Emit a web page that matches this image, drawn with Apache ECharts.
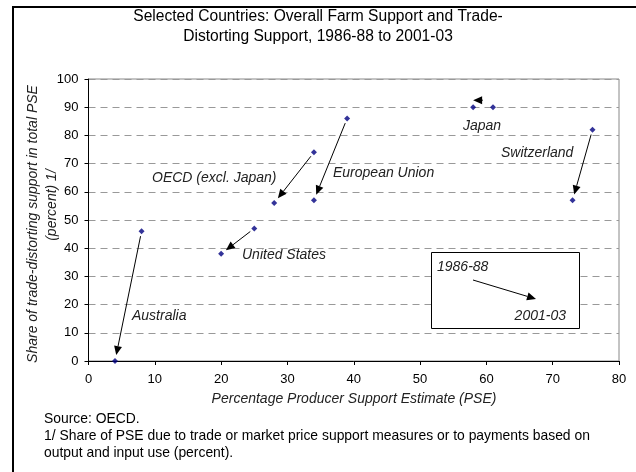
<!DOCTYPE html>
<html>
<head>
<meta charset="utf-8">
<script src="https://cdn.jsdelivr.net/npm/echarts@6/dist/echarts.min.js"></script>
<style>
  html, body { margin: 0; padding: 0; background: #fff; }
  #chart { width: 636px; height: 472px; }
</style>
</head>
<body>
<div id="chart"></div>
<script>
// Farm support by country: percentage PSE (x) against the trade-distorting share of PSE (y)
const countries = ['Australia', 'United States', 'OECD (excl. Japan)', 'European Union', 'Japan', 'Switzerland'];
const pse1986 = [8, 25, 34, 39, 61, 76];
const share1986 = [46, 47, 74, 86, 90, 82];
const pse2001 = [4, 20, 28, 34, 58, 73];
const share2001 = [0, 38, 56, 57, 90, 57];

const xTicks = [0, 10, 20, 30, 40, 50, 60, 70, 80];
const yTicks = [0, 10, 20, 30, 40, 50, 60, 70, 80, 90, 100];

const FONT = '"Liberation Sans", Arial, sans-serif';

const pointsEarly = pse1986.map((x, i) => [x, share1986[i]]);
const pointsLate = pse2001.map((x, i) => [x, share2001[i]]);
const moves = countries.map((c, i) => [pse1986[i], share1986[i], pse2001[i], share2001[i]]);

// Arrow from (x1, y1) to the tip (x2, y2), with a filled head
function arrowShape(x1, y1, x2, y2, z) {
  const dx = x2 - x1, dy = y2 - y1;
  const len = Math.hypot(dx, dy);
  const ux = dx / len, uy = dy / len;
  const headLen = 9, headHalf = 4;
  const bx = x2 - ux * headLen, by = y2 - uy * headLen;
  const line = { type: 'line', shape: { x1: x1, y1: y1, x2: bx, y2: by }, style: { stroke: '#000', lineWidth: 1 } };
  const head = { type: 'polygon', shape: { points: [[x2, y2], [bx - uy * headHalf, by + ux * headHalf], [bx + uy * headHalf, by - ux * headHalf]] }, style: { fill: '#000' } };
  if (z != null) { line.z = z; head.z = z; }
  return [line, head];
}

// Each country's move from 1986-88 to 2001-03
function renderMove(params, api) {
  const a = api.coord([api.value(0), api.value(1)]);
  const b = api.coord([api.value(2), api.value(3)]);
  const dx = b[0] - a[0], dy = b[1] - a[1];
  const len = Math.hypot(dx, dy);
  const ux = dx / len, uy = dy / len;
  let tailGap = 5, headGap = 6, lift = 0;
  if (Math.abs(dy) < 1) { tailGap = 10; headGap = 0; lift = -7; }  // level move: draw the arrow above the points
  const x1 = a[0] + ux * tailGap, y1 = a[1] + uy * tailGap + lift;
  const x2 = b[0] - ux * headGap, y2 = b[1] - uy * headGap + lift;
  return { type: 'group', children: arrowShape(x1, y1, x2, y2) };
}

const italic = { fontFamily: FONT, fontStyle: 'italic', fontSize: 14, fill: '#222' };
const plain = { fontFamily: FONT, fontSize: 14, fill: '#000' };

const chart = echarts.init(document.getElementById('chart'), null, { renderer: 'canvas' });
chart.setOption({
  backgroundColor: '#fff',
  animation: false,
  grid: { left: 88.5, right: 17, top: 79, bottom: 111, show: true, borderColor: '#888', borderWidth: 1, backgroundColor: 'transparent' },
  xAxis: {
    type: 'value', min: xTicks[0], max: xTicks[xTicks.length - 1], interval: 10,
    axisLine: { show: true, lineStyle: { color: '#000', width: 1 } },
    axisTick: { show: true, length: 4, inside: false, lineStyle: { color: '#000' } },
    axisLabel: { color: '#000', fontFamily: FONT, fontSize: 13, margin: 12 },
    splitLine: { show: false }
  },
  yAxis: {
    type: 'value', min: yTicks[0], max: yTicks[yTicks.length - 1], interval: 10,
    axisLine: { show: true, lineStyle: { color: '#000', width: 1 } },
    axisTick: { show: true, length: 4, lineStyle: { color: '#000' } },
    axisLabel: { color: '#000', fontFamily: FONT, fontSize: 13, margin: 10 },
    splitLine: { show: true, lineStyle: { color: '#999', type: [7, 5], width: 1 } }
  },
  series: [
    { type: 'custom', renderItem: renderMove, data: moves, z: 3, silent: true },
    { type: 'scatter', data: pointsEarly, symbol: 'diamond', symbolSize: [6, 6], itemStyle: { color: '#000080' }, z: 4 },
    { type: 'scatter', data: pointsLate, symbol: 'diamond', symbolSize: [6, 6], itemStyle: { color: '#000080' }, z: 4 }
  ],
  graphic: [
    // outer frame
    { type: 'rect', shape: { x: 13, y: 7, width: 640, height: 480 }, style: { fill: 'none', stroke: '#000', lineWidth: 2 }, z: 1 },
    // title
    { type: 'text', x: 318, y: 17, style: Object.assign({}, plain, { text: 'Selected Countries: Overall Farm Support and Trade-', fontSize: 15.6, align: 'center', verticalAlign: 'middle' }) },
    { type: 'text', x: 318, y: 37, style: Object.assign({}, plain, { text: 'Distorting Support, 1986-88 to 2001-03', fontSize: 15.6, align: 'center', verticalAlign: 'middle' }) },
    // axis names
    { type: 'text', x: 33, y: 224, rotation: Math.PI / 2, style: Object.assign({}, italic, { text: 'Share of trade-distorting support in total PSE', align: 'center', verticalAlign: 'middle' }) },
    { type: 'text', x: 52, y: 205, rotation: Math.PI / 2, style: Object.assign({}, italic, { text: '(percent) 1/', align: 'center', verticalAlign: 'middle' }) },
    { type: 'text', x: 354, y: 399, style: Object.assign({}, italic, { text: 'Percentage Producer Support Estimate (PSE)', align: 'center', verticalAlign: 'middle' }) },
    // country labels
    { type: 'text', x: 132, y: 316, style: Object.assign({}, italic, { text: countries[0], verticalAlign: 'middle' }) },
    { type: 'text', x: 242, y: 255, style: Object.assign({}, italic, { text: countries[1], verticalAlign: 'middle' }) },
    { type: 'text', x: 152, y: 178, style: Object.assign({}, italic, { text: countries[2], verticalAlign: 'middle' }) },
    { type: 'text', x: 333, y: 173, style: Object.assign({}, italic, { text: countries[3], verticalAlign: 'middle' }) },
    { type: 'text', x: 463, y: 126, style: Object.assign({}, italic, { text: countries[4], verticalAlign: 'middle' }) },
    { type: 'text', x: 501, y: 153, style: Object.assign({}, italic, { text: countries[5], verticalAlign: 'middle' }) },
    // key box
    { type: 'rect', shape: { x: 431.5, y: 252.5, width: 148, height: 76 }, style: { fill: '#fff', stroke: '#000', lineWidth: 1 }, z: 10 },
    { type: 'text', x: 437, y: 267, z: 11, style: Object.assign({}, italic, { text: '1986-88', verticalAlign: 'middle' }) },
    { type: 'text', x: 566, y: 316, z: 11, style: Object.assign({}, italic, { text: '2001-03', align: 'right', verticalAlign: 'middle' }) }
  ].concat(arrowShape(473, 280, 536, 299, 11)).concat([
    // notes
    { type: 'text', x: 44, y: 419, style: Object.assign({}, plain, { text: 'Source: OECD.', fontSize: 13.9, verticalAlign: 'middle' }) },
    { type: 'text', x: 44, y: 436, style: Object.assign({}, plain, { text: '1/ Share of PSE due to trade or market price support measures or to payments based on', fontSize: 13.9, verticalAlign: 'middle' }) },
    { type: 'text', x: 44, y: 453, style: Object.assign({}, plain, { text: 'output and input use (percent).', fontSize: 13.9, verticalAlign: 'middle' }) }
  ])
});
</script>
</body>
</html>
